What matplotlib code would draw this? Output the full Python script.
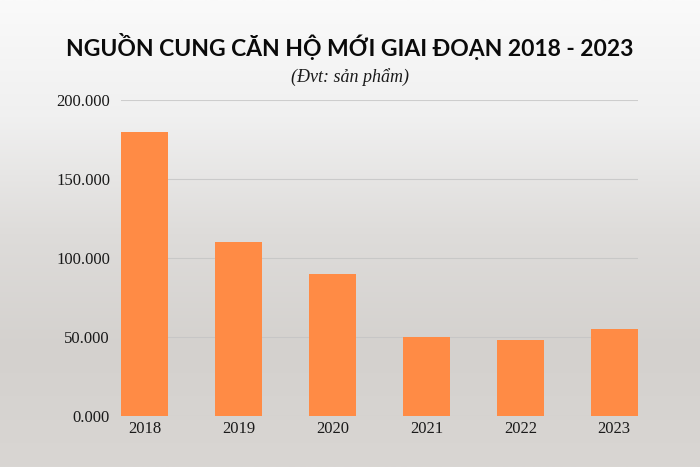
import numpy as np
import matplotlib.pyplot as plt
from matplotlib.colors import LinearSegmentedColormap

# Data
years = ["2018", "2019", "2020", "2021", "2022", "2023"]
supply = [180000, 110000, 90000, 50000, 48200, 55000]
ytick_vals = [0, 50000, 100000, 150000, 200000]
ytick_labels = ["0.000", "50.000", "100.000", "150.000", "200.000"]

fig = plt.figure(figsize=(7, 4.67), dpi=100)

# faded background (stand-in for the city photo)
bg = fig.add_axes([0, 0, 1, 1], zorder=0)
cmap = LinearSegmentedColormap.from_list(
    "bg", ["#fafafa", "#f0f0f0", "#dedcda", "#d4d1ce", "#d9d6d3"])
grad = np.linspace(0, 1, 256).reshape(-1, 1)
bg.imshow(grad, aspect='auto', cmap=cmap, extent=[0, 1, 0, 1], origin='upper')
bg.axis('off')

ax = fig.add_axes([0.173, 0.11, 0.738, 0.676], zorder=1)
ax.patch.set_alpha(0)
x = np.arange(len(years))
ax.bar(x, supply, width=0.5, color='#FF8B45', zorder=3)

ax.set_ylim(0, 200000)
ax.set_xlim(-0.25, 5.25)
ax.set_yticks(ytick_vals)
ax.set_yticklabels(ytick_labels, family='Liberation Serif', fontsize=12, color='#1a1a1a')
ax.set_xticks(x)
ax.set_xticklabels(years, family='Liberation Serif', fontsize=12, color='#1a1a1a')
ax.tick_params(length=0, pad=8)
ax.tick_params(axis='x', pad=4)
ax.grid(axis='y', color='#c4c4c4', linewidth=0.8, alpha=0.8, zorder=0)
for s in ax.spines.values():
    s.set_visible(False)

fig.text(0.5, 0.9, "NGUỒN CUNG CĂN HỘ MỚI GIAI ĐOẠN 2018 - 2023",
         ha='center', va='center', fontsize=16.5, fontweight='bold',
         family=['Lato', 'DejaVu Sans'], color='#0a0a0a')
fig.text(0.5, 0.836, "(Đvt: sản phẩm)", ha='center', va='center', fontsize=13,
         style='italic', family='Liberation Serif', color='#1a1a1a')

fig.savefig("out.png", dpi=100)
